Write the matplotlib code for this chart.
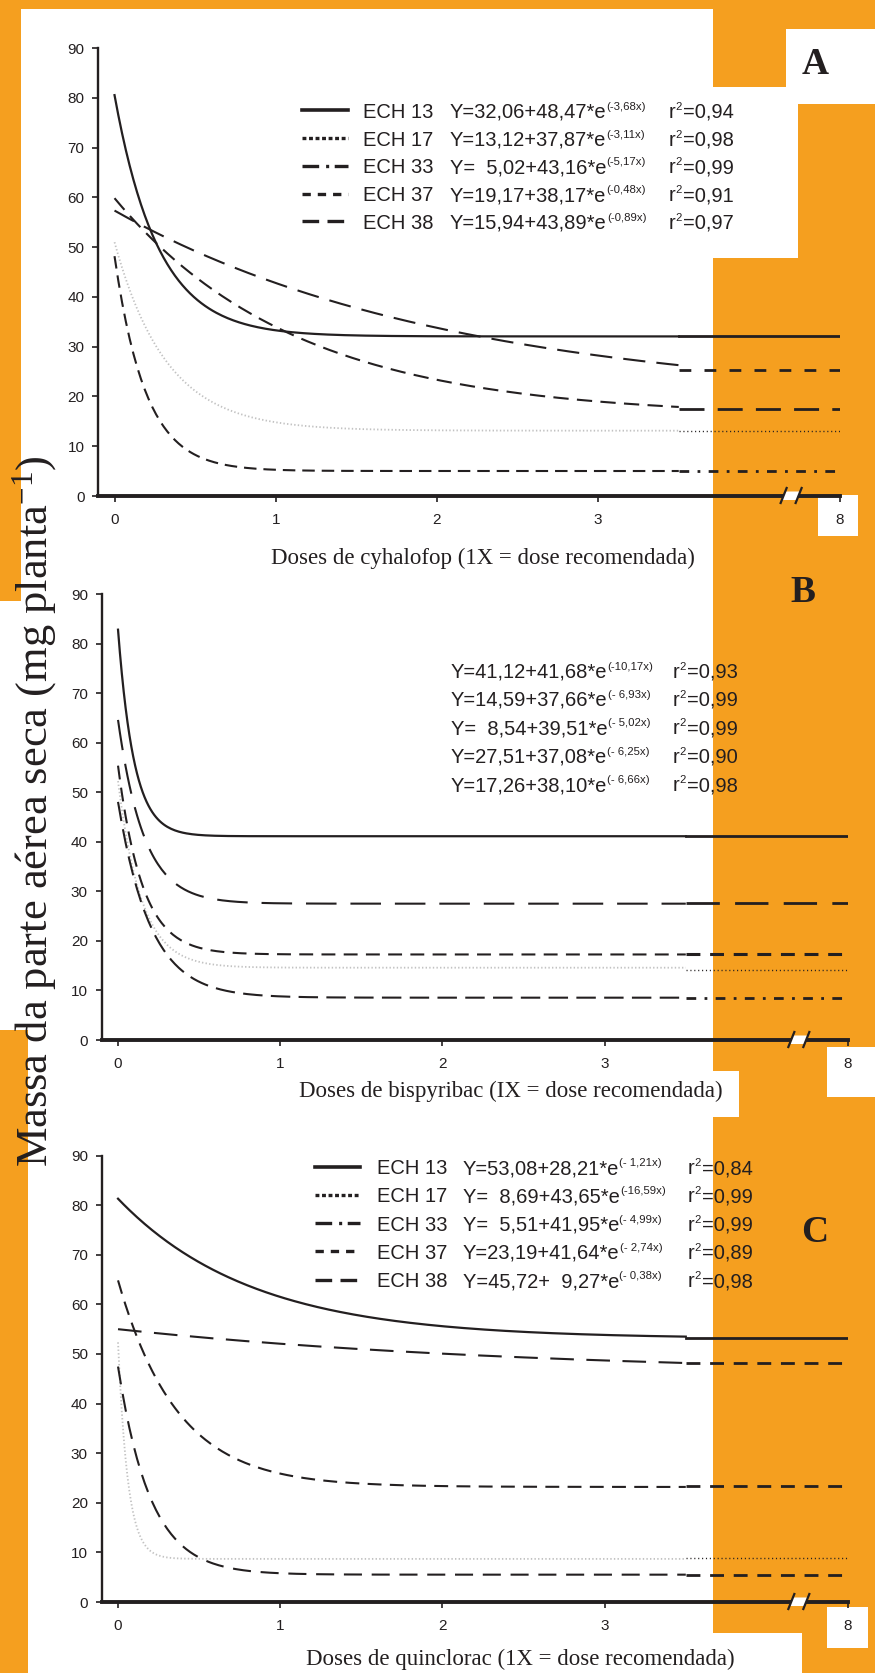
#Dose-response curves of barnyardgrass biotypes (three herbicides)

import numpy as np
import matplotlib
matplotlib.use('Agg')
import matplotlib.pyplot as plt
from matplotlib.lines import Line2D
from matplotlib.patches import Rectangle, Polygon
from matplotlib.transforms import IdentityTransform

plt.rcParams['font.family'] = ['Liberation Sans', 'DejaVu Sans']
plt.rcParams['lines.scale_dashes'] = False
plt.rcParams['mathtext.fontset'] = 'custom'
plt.rcParams['mathtext.rm'] = 'Liberation Serif'
plt.rcParams['mathtext.default'] = 'regular'

#Data: Y = a + b*e^(-k*x)
series = ['ECH 13', 'ECH 17', 'ECH 33', 'ECH 37', 'ECH 38']

#A - cyhalofop
a_cyh = [32.06, 13.12, 5.02, 19.17, 15.94]
b_cyh = [48.47, 37.87, 43.16, 38.17, 43.89]
k_cyh = [3.68, 3.11, 5.17, 0.48, 0.89]
r2_cyh = [0.94, 0.98, 0.99, 0.91, 0.97]
y8_cyh = [32.1, 13.0, 5.0, 25.3, 17.5]

#B - bispyribac
a_bis = [41.12, 14.59, 8.54, 27.51, 17.26]
b_bis = [41.68, 37.66, 39.51, 37.08, 38.10]
k_bis = [10.17, 6.93, 5.02, 6.25, 6.66]
r2_bis = [0.93, 0.99, 0.99, 0.90, 0.98]
y8_bis = [41.1, 14.2, 8.5, 27.6, 17.3]

#C - quinclorac
a_qui = [53.08, 8.69, 5.51, 23.19, 45.72]
b_qui = [28.21, 43.65, 41.95, 41.64, 9.27]
k_qui = [1.21, 16.59, 4.99, 2.74, 0.38]
r2_qui = [0.84, 0.99, 0.99, 0.89, 0.98]
y8_qui = [53.3, 8.85, 5.4, 23.3, 48.1]

y_ticks = [0, 10, 20, 30, 40, 50, 60, 70, 80, 90]
x_ticks = [0, 1, 2, 3]
x_tick_labels = ['0', '1', '2', '3']
last_dose_label = '8'
x_titles = ['Doses de cyhalofop (1X = dose recomendada)',
            'Doses de bispyribac (IX = dose recomendada)',
            'Doses de quinclorac (1X = dose recomendada)']
y_title = 'Massa da parte aérea seca (mg planta$^{-1}$)'
panel_letters = ['A', 'B', 'C']

#Layout
W, H = 875, 1673
ORANGE = '#f59f1f'
INK = '#231f20'
LIGHT = '#c2c2c2'
CURVE_END = 3.5   #fitted curves drawn up to 3.5X
X8 = 4.5          #axis position of the 8X dose after the break
BREAK_X = 4.2
dose = np.linspace(0, CURVE_END, 300)


def solid(lw=1.6):
    return dict(color=INK, lw=lw, ls='-')


def dashed(on, off, lw=1.5, color=INK):
    return dict(color=color, lw=lw, ls=(0, (on, off)))


light_dots = dict(color=LIGHT, lw=1.3, ls=(0, (1.0, 1.6)))
dark_dots = dict(color=INK, lw=1.0, ls=(0, (0.8, 2.0)))
dash_dot = dict(color=INK, lw=2.0, ls=(0, (7, 6, 2, 6)))

panels = [
    dict(a=a_cyh, b=b_cyh, k=k_cyh, r2=r2_cyh, y8=y8_cyh,
         box=(98.4, 48, 840, 496), xlab=(483, 558), letter=(815, 64),
         legend=True, base_y=117.7, step=27.8, sample_x=(302, 348),
         name_x=363, eq_x=450, r2_x=669, space_minus=False,
         main=[solid(), light_dots, dashed(9, 5), dashed(16, 8), dashed(11, 6)],
         ext=[solid(2.0), dark_dots, dash_dot, dashed(8.5, 9.5, 2.0), dashed(18, 9.5, 2.0)]),
    dict(a=a_bis, b=b_bis, k=k_bis, r2=r2_bis, y8=y8_bis,
         box=(101.8, 594, 848, 1040), xlab=(511, 1091), letter=(803, 593),
         legend=False, base_y=677.5, step=28.4, sample_x=None,
         name_x=None, eq_x=451, r2_x=673, space_minus=True,
         main=[solid(), light_dots, dashed(14, 6), dashed(22, 10), dashed(10, 6)],
         ext=[solid(2.0), dark_dots, dash_dot, dashed(24, 11, 2.0), dashed(10, 7, 2.2)]),
    dict(a=a_qui, b=b_qui, k=k_qui, r2=r2_qui, y8=y8_qui,
         box=(101.8, 1155.5, 848, 1602), xlab=(520, 1659), letter=(815, 1233),
         legend=True, base_y=1174.3, step=28.2, sample_x=(315, 360),
         name_x=377, eq_x=463, r2_x=688, space_minus=True,
         main=[solid(), light_dots, dashed(13, 7), dashed(10, 6), dashed(17, 9)],
         ext=[solid(2.0), dark_dots, dashed(10, 7, 2.0), dashed(10, 7, 2.0), dashed(10, 7, 2.0)]),
]

legend_styles = [
    dict(color=INK, lw=2.6, ls='-'),
    dict(color=INK, lw=2.4, ls=(0, (2.8, 1.9))),
    dict(color=INK, lw=2.4, ls=(0, (12, 5, 2.2, 4))),
    dict(color=INK, lw=2.4, ls=(0, (6, 5))),
    dict(color=INK, lw=2.4, ls=(0, (12, 6))),
]

#White page areas over the orange background (x0, y0, x1, y1 from top-left)
white_boxes = [
    (21, 9, 713, 601), (0, 601, 713, 1030), (28, 1030, 713, 1673),
    (786, 29, 875, 104), (713, 87, 798, 258), (818, 495, 858, 536),
    (713, 1071, 739, 1117), (827, 1047, 875, 1097),
    (827, 1607, 868, 1648), (713, 1633, 802, 1673),
]


def num(v, pad):
    s = f'{v:.2f}'.replace('.', ',')
    if pad and v < 10:
        s = '  ' + s
    return s


def rich_text(fig, renderer, x, y, pieces, size=14.5, sup_size=8.2, rise=8):
    #pieces: list of (text, is_superscript); x, y in pixels from top-left
    for txt, sup in pieces:
        t = fig.text(x, H - y + (rise if sup else 0), txt, transform=IdentityTransform(),
                     fontsize=sup_size if sup else size, color=INK,
                     ha='left', va='baseline')
        x = t.get_window_extent(renderer).x1 + (1 if sup else 0)
    return x


def draw_break(ax, l, r, t, b):
    ux = (X8 + 0.1) / (r - l)
    uy = 90 / (b - t)
    s1 = [(BREAK_X - 11 * ux, -7 * uy), (BREAK_X - 5 * ux, 8 * uy)]
    s2 = [(BREAK_X + 4 * ux, -7 * uy), (BREAK_X + 10 * ux, 8 * uy)]
    gap = Polygon([(BREAK_X - 9.5 * ux, -4 * uy), (BREAK_X + 5.5 * ux, -4 * uy),
                   (BREAK_X + 8.5 * ux, 4.5 * uy), (BREAK_X - 6.5 * ux, 4.5 * uy)],
                  closed=True, facecolor='white', edgecolor='none',
                  zorder=5, clip_on=False)
    ax.add_patch(gap)
    for s in (s1, s2):
        ax.plot([s[0][0], s[1][0]], [s[0][1], s[1][1]], color=INK, lw=1.6,
                zorder=6, clip_on=False)


#Main
fig = plt.figure(figsize=(W / 100, H / 100), dpi=100, facecolor=ORANGE)
renderer = fig.canvas.get_renderer()

for x0, y0, x1, y1 in white_boxes:
    fig.patches.append(Rectangle((x0 / W, 1 - y1 / H), (x1 - x0) / W, (y1 - y0) / H,
                                 transform=fig.transFigure, facecolor='white',
                                 edgecolor='none', zorder=-1))

for n, p in enumerate(panels):
    l, t, r, b = p['box']
    ax = fig.add_axes([l / W, 1 - b / H, (r - l) / W, (b - t) / H])
    ax.set_facecolor('none')

    #Curves and the levels at the 8X dose
    for i in range(len(series)):
        y = p['a'][i] + p['b'][i] * np.exp(-p['k'][i] * dose)
        ax.plot(dose, y, **p['main'][i])
        ax.plot([CURVE_END, X8], [p['y8'][i], p['y8'][i]], **p['ext'][i])

    ax.set_xlim(-0.1, X8)
    ax.set_ylim(0, 90)
    ax.set_yticks(y_ticks)
    ax.set_xticks(x_ticks + [X8])
    ax.set_xticklabels(x_tick_labels + [last_dose_label])
    for side in ('top', 'right'):
        ax.spines[side].set_visible(False)
    ax.spines['left'].set_linewidth(1.7)
    ax.spines['bottom'].set_linewidth(2.8)
    ax.spines['left'].set_color(INK)
    ax.spines['bottom'].set_color(INK)
    ax.tick_params(axis='y', length=4.5, width=1.2, pad=5.5, labelsize=11,
                   colors=INK)
    ax.tick_params(axis='x', length=4.3, width=1.2, pad=8, labelsize=11,
                   colors=INK)
    draw_break(ax, l, r, t, b)

    #Axis title and panel letter
    fig.text(p['xlab'][0] / W, 1 - p['xlab'][1] / H, x_titles[n],
             family=['Liberation Serif', 'DejaVu Serif'], fontsize=16.5,
             color=INK, ha='center', va='center')
    fig.text(p['letter'][0] / W, 1 - p['letter'][1] / H, panel_letters[n],
             family=['Liberation Serif', 'DejaVu Serif'], fontsize=27,
             fontweight='bold', color=INK, ha='center', va='center')

    #Legend rows with the fitted equations
    for i in range(len(series)):
        base = p['base_y'] + i * p['step']
        if p['legend']:
            x0, x1 = p['sample_x']
            fig.add_artist(Line2D([x0, x1], [H - base + 7.5, H - base + 7.5],
                                  transform=IdentityTransform(), **legend_styles[i]))
            fig.text(p['name_x'], H - base, series[i], transform=IdentityTransform(),
                     fontsize=14.5, color=INK, ha='left', va='baseline')
        kk = num(p['k'][i], False)
        sup = '(-' + (' ' if p['space_minus'] and p['k'][i] < 10 else '') + kk + 'x)'
        eq = 'Y=' + num(p['a'][i], True) + '+' + num(p['b'][i], True) + '*e'
        rich_text(fig, renderer, p['eq_x'], base, [(eq, False), (sup, True)])
        rich_text(fig, renderer, p['r2_x'], base,
                  [('r', False), ('2', True), ('=' + num(p['r2'][i], False), False)])

#Shared y title
fig.text(35 / W, 1 - 811 / H, y_title, family=['Liberation Serif', 'DejaVu Serif'],
         fontsize=32, color=INK, rotation=90, ha='center', va='center')

fig.savefig('out.png', dpi=100, facecolor=ORANGE)
